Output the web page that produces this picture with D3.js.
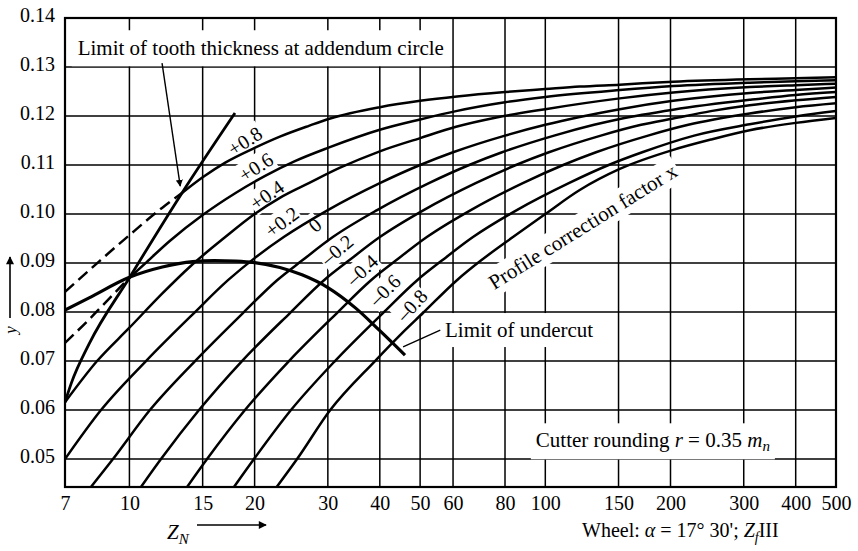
<!DOCTYPE html>
<html><head><meta charset="utf-8">
<script src="https://cdn.jsdelivr.net/npm/d3@7"></script>
<style>
body{margin:0;background:#fff}
svg{display:block}
text{font-family:"Liberation Serif","Times New Roman",serif;fill:#000}
</style>
</head><body>
<svg id="c" width="858" height="551"></svg>
<script>
// ---------- data ----------
const zTicks = [7,10,15,20,30,40,50,60,80,100,150,200,300,400,500];
const zTickLabels = ["7","10","15","20","30","40","50","60","80","100","150","200","300","400","500"];
const yTicks = [0.05,0.06,0.07,0.08,0.09,0.10,0.11,0.12,0.13,0.14];
const yTickLabels = ["0.05","0.06","0.07","0.08","0.09","0.10","0.11","0.12","0.13","0.14"];

const xFactors = ["+0.8","+0.6","+0.4","+0.2","0","\u20130.2","\u20130.4","\u20130.6","\u20130.8"];

const curveP08 = [[13.38,0.1043],[15,0.1075],[17,0.1105],[20,0.1135],[23,0.1158],[27,0.1180],[30.4,0.1195],[40,0.1218],[50,0.1231],[61.3,0.1240],[80,0.1249],[100,0.1255],[121,0.1260],[151,0.1264],[203,0.1270],[310,0.1275],[400,0.1277],[500,0.1279]];
const curveP06 = [[10,0.0870],[11,0.0902],[12.5,0.0945],[15,0.0998],[18,0.1043],[21.2,0.1078],[25,0.1108],[30,0.1135],[40,0.1172],[50,0.1193],[61,0.1210],[80,0.1228],[100,0.1239],[151,0.1253],[203,0.1261],[310,0.1268],[400,0.1271],[500,0.1273]];
const curveP04 = [[7,0.0616],[8.36,0.0700],[10,0.0768],[12,0.0838],[14,0.0893],[17,0.0953],[20,0.1000],[23,0.1033],[27,0.1063],[32,0.1094],[40,0.1128],[50,0.1155],[61,0.1178],[76.3,0.1197],[100,0.1214],[151,0.1236],[203,0.1248],[310,0.1259],[400,0.1263],[500,0.1266]];
const curveP02 = [[7,0.0500],[8.544,0.0600],[10.96,0.0700],[14.3,0.0798],[17.26,0.0865],[20,0.0910],[23.5,0.0953],[30,0.1008],[40,0.1063],[50,0.1100],[60,0.1126],[80,0.1160],[100,0.1182],[121,0.1198],[151,0.1214],[203,0.1231],[310,0.1247],[400,0.1253],[500,0.1258]];
const curveP00 = [[8.08,0.0443],[9.13,0.0500],[11.2,0.0600],[14.38,0.0700],[18.75,0.0798],[22.65,0.0865],[26,0.0905],[30.84,0.0953],[39.4,0.1008],[52.5,0.1063],[65.6,0.1100],[78.7,0.1126],[105,0.1160],[131,0.1182],[151,0.1194],[203,0.1213],[310,0.1233],[400,0.1243],[500,0.1249]];
const curveM02 = [[10.66,0.0443],[11.91,0.0500],[14.70,0.0600],[18.65,0.0700],[24.32,0.0798],[29.37,0.0865],[33.7,0.0905],[40,0.0953],[51,0.1008],[68,0.1063],[85,0.1100],[102,0.1126],[136,0.1160],[170,0.1182],[203,0.1195],[250,0.1210],[310,0.1222],[400,0.1232],[500,0.1239]];
const curveM04 = [[13.76,0.0443],[15.37,0.0500],[18.96,0.0600],[24.19,0.0700],[31.55,0.0798],[38.1,0.0865],[43.7,0.0905],[51.9,0.0953],[66.2,0.1008],[88.3,0.1063],[110.4,0.1100],[132.4,0.1126],[176.6,0.1160],[220.7,0.1182],[310,0.1205],[400,0.1218],[500,0.1226]];
const curveM06 = [[17.84,0.0443],[19.93,0.0500],[24.46,0.0600],[31.2,0.0700],[40.7,0.0798],[49.2,0.0865],[56.4,0.0905],[67,0.0953],[85.4,0.1008],[113.9,0.1063],[142,0.1100],[171,0.1126],[228,0.1160],[310,0.1183],[400,0.1199],[500,0.1210]];
const curveM08 = [[22.6,0.0443],[25.3,0.0500],[30.4,0.0600],[38.95,0.0700],[45,0.0755],[50.8,0.0798],[61.3,0.0865],[70,0.0905],[83.6,0.0953],[100,0.1000],[121,0.1049],[151,0.1092],[203,0.1131],[250,0.1152],[310,0.1171],[400,0.1186],[500,0.1196]];

const dashP08 = [[7,0.0841],[8.5,0.0905],[10,0.0957],[12,0.1013],[13.38,0.1043]];
const dashP06 = [[7,0.0737],[8,0.0785],[9,0.0830],[10,0.0870]];

const toothLimit = [[7,0.0616],[7.25,0.0655],[8,0.0735],[10,0.0870],[13.38,0.1043],[17.94,0.1206]];
const undercutLimit = [[7,0.0804],[8,0.0829],[10,0.0871],[12,0.0892],[14.2,0.0903],[16,0.0905],[18,0.0904],[20,0.0901],[23,0.0891],[26,0.0876],[30,0.0850],[35,0.0808],[40,0.0762],[46,0.0712]];

const curves = [curveP08,curveP06,curveP04,curveP02,curveP00,curveM02,curveM04,curveM06,curveM08];
// label anchors (z, y) and rotation for each factor label
const labelAnchors = [[18.96,0.1149],[20.15,0.1096],[21.41,0.1039],[23.26,0.0984],[27.93,0.0978],[31.55,0.0927],[36.23,0.0886],[41.1,0.0845],[47.75,0.0814]];
const labelAngles = [-33,-33,-35,-37,-40,-40,-43,-45,-47];

// ---------- layout ----------
const svg = d3.select("#c");
const x = d3.scaleLog().domain([7,500]).range([65,836]);
const y = d3.scaleLinear().domain([0.0443,0.14]).range([487,18]);
const FONT = "Liberation Serif";

const defs = svg.append("defs");
defs.append("clipPath").attr("id","plot")
  .append("rect").attr("x",65).attr("y",18).attr("width",771).attr("height",469);

const gGrid = svg.append("g");
const gBg = svg.append("g");
const gLines = svg.append("g").attr("clip-path","url(#plot)");
const gText = svg.append("g");

// grid
gGrid.selectAll("line.v").data(zTicks).join("line")
  .attr("x1",d=>x(d)).attr("x2",d=>x(d)).attr("y1",y(0.14)).attr("y2",y(0.0443))
  .attr("stroke","#000").attr("stroke-width",1.5);
gGrid.selectAll("line.h").data(yTicks).join("line")
  .attr("x1",x(7)).attr("x2",x(500)).attr("y1",d=>y(d)).attr("y2",d=>y(d))
  .attr("stroke","#000").attr("stroke-width",1.5);

// tick labels via axes
const xAxis = d3.axisBottom(x).tickValues(zTicks).tickFormat((d,i)=>zTickLabels[i]).tickSize(0).tickPadding(9);
const gx = svg.append("g").attr("transform",`translate(0,${y(0.0443)})`).call(xAxis);
gx.select(".domain").remove();
gx.selectAll("text").attr("font-size",20).attr("font-family",FONT).attr("fill","#000");

const yAxis = d3.axisLeft(y).tickValues(yTicks).tickFormat((d,i)=>yTickLabels[i]).tickSize(0).tickPadding(10);
const gy = svg.append("g").attr("transform",`translate(${x(7)},0)`).call(yAxis);
gy.select(".domain").remove();
gy.selectAll("text").attr("font-size",20).attr("font-family",FONT).attr("fill","#000").attr("dy","0.17em");

// frame
svg.append("rect").attr("x",x(7)).attr("y",y(0.14)).attr("width",x(500)-x(7)).attr("height",y(0.0443)-y(0.14))
  .attr("fill","none").attr("stroke","#000").attr("stroke-width",2.2);

// ---------- label helper ----------
function addLabel(px, py, angle, build, pad, opts={}) {
  const tr = `translate(${px},${py}) rotate(${angle})`;
  const t = gText.append("text").attr("transform",tr)
    .attr("font-size",opts.size||21).attr("text-anchor",opts.anchor||"middle");
  build(t);
  const bb = t.node().getBBox();
  gBg.append("rect").attr("transform",tr)
    .attr("x",bb.x-pad).attr("y",bb.y-pad).attr("width",bb.width+2*pad).attr("height",bb.height+2*pad)
    .attr("fill","#fff");
  return t;
}

// factor labels
xFactors.forEach((lab,i)=>{
  const a = labelAnchors[i];
  addLabel(x(a[0]), y(a[1]), labelAngles[i], t=>t.attr("dy","0.35em").text(lab), 1, {size:20});
});

// top label
addLabel(x(7.51), y(0.1324), 0, t=>t.text("Limit of tooth thickness at addendum circle"), 6, {anchor:"start"});
// undercut label
addLabel(x(57.4), y(0.0749), 0, t=>t.text("Limit of undercut"), 5, {anchor:"start"});
// profile correction factor label
addLabel(x(123), y(0.0975), -32, t=>t.attr("dy","0.35em").text("Profile correction factor x"), 2);
// cutter rounding
addLabel(x(94.9), y(0.0524), 0, t=>{
  t.append("tspan").text("Cutter rounding ");
  t.append("tspan").attr("font-style","italic").text("r");
  t.append("tspan").text(" = 0.35 ");
  t.append("tspan").attr("font-style","italic").text("m");
  t.append("tspan").attr("font-style","italic").attr("font-size",15).attr("dy",4).text("n");
}, 5, {anchor:"start"});

// ---------- curves ----------
const line = d3.line().x(d=>x(d[0])).y(d=>y(d[1])).curve(d3.curveMonotoneX);
gLines.selectAll("path.c").data(curves).join("path")
  .attr("d",line).attr("fill","none").attr("stroke","#000").attr("stroke-width",2.5).attr("stroke-linecap","round");
gLines.selectAll("path.d").data([dashP08,dashP06]).join("path")
  .attr("d",line).attr("fill","none").attr("stroke","#000").attr("stroke-width",2.5).attr("stroke-dasharray","12,6");
gLines.append("path").datum(toothLimit).attr("d",line).attr("fill","none").attr("stroke","#000").attr("stroke-width",2.8);
gLines.append("path").datum(undercutLimit).attr("d",line).attr("fill","none").attr("stroke","#000").attr("stroke-width",3.2);

// leaders
defs.append("marker").attr("id","ah").attr("viewBox","0 0 10 10").attr("refX",9).attr("refY",5)
  .attr("markerWidth",7).attr("markerHeight",9).attr("markerUnits","userSpaceOnUse").attr("orient","auto")
  .append("path").attr("d","M0,0 L10,5 L0,10 Z").attr("fill","#000");
svg.append("line").attr("x1",x(11.98)).attr("y1",y(0.1308)).attr("x2",x(13.25)).attr("y2",y(0.1057))
  .attr("stroke","#000").attr("stroke-width",1.4).attr("marker-end","url(#ah)");
svg.append("line").attr("x1",x(55.9)).attr("y1",y(0.0763)).attr("x2",x(45.5)).attr("y2",y(0.0729))
  .attr("stroke","#000").attr("stroke-width",1.4);

// ---------- axis titles ----------
defs.append("marker").attr("id","ah2").attr("viewBox","0 0 10 10").attr("refX",9).attr("refY",5)
  .attr("markerWidth",10).attr("markerHeight",8).attr("markerUnits","userSpaceOnUse").attr("orient","auto")
  .append("path").attr("d","M0,0 L10,5 L0,10 Z").attr("fill","#000");
svg.append("line").attr("x1",10).attr("y1",318).attr("x2",10).attr("y2",257)
  .attr("stroke","#000").attr("stroke-width",1.6).attr("marker-end","url(#ah2)");
svg.append("text").attr("transform","translate(16,330) rotate(-90)").attr("text-anchor","middle")
  .attr("font-size",17).attr("font-style","italic").text("y");

// Z_N
const zt = svg.append("text").attr("x",167).attr("y",539).attr("font-size",21).attr("font-style","italic");
zt.append("tspan").text("Z");
zt.append("tspan").attr("font-size",15).attr("dy",5).text("N");
svg.append("line").attr("x1",197).attr("y1",525).attr("x2",266).attr("y2",525)
  .attr("stroke","#000").attr("stroke-width",1.6).attr("marker-end","url(#ah2)");

// Wheel caption
const wt = svg.append("text").attr("x",582).attr("y",537).attr("font-size",20);
wt.append("tspan").text("Wheel: ");
wt.append("tspan").attr("font-style","italic").text("\u03B1");
wt.append("tspan").text(" = 17\u00B0 30'; ");
wt.append("tspan").attr("font-style","italic").text("Z");
wt.append("tspan").attr("font-style","italic").attr("font-size",14).attr("dy",5).text("f");
wt.append("tspan").attr("dy",-5).text("III");
</script>
</body></html>
